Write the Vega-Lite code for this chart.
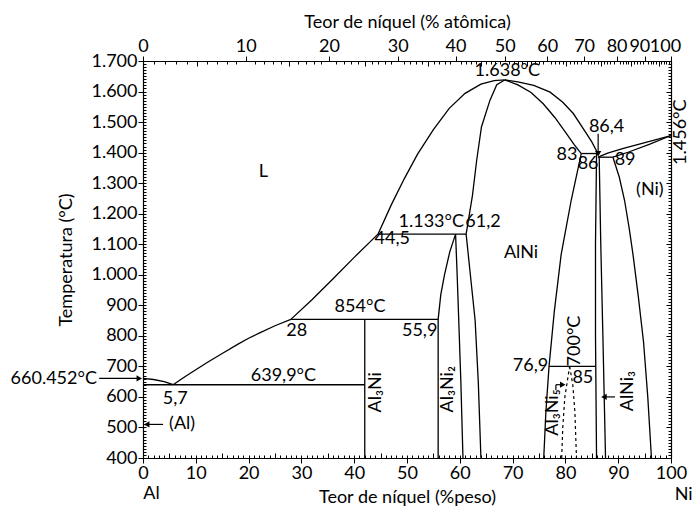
{
  "$schema": "https://vega.github.io/schema/vega-lite/v6.json",
  "autosize": "none",
  "width": 528,
  "height": 397,
  "padding": {"left": 143, "top": 61, "right": 25, "bottom": 50},
  "background": "white",
  "config": {
    "view": {"stroke": null},
    "font": "Lato",
    "axis": {"labelFont": "Lato", "titleFont": "Lato", "labelFontSize": 18, "titleFontSize": 18, "titleFontWeight": "normal", "labelColor": "black", "titleColor": "black", "domainColor": "black", "tickColor": "black", "grid": false, "labelOverlap": false, "labelBound": false, "labelFlush": false, "domainWidth": 1.2, "tickWidth": 1}
  },
  "datasets": {
    "solid": [
      {"c": "c1", "o": 1, "x": 0, "T": 660.5}, {"c": "c1", "o": 2, "x": 2, "T": 657}, {"c": "c1", "o": 3, "x": 4, "T": 650}, {"c": "c1", "o": 4, "x": 5.7, "T": 639.9},
      {"c": "c2", "o": 1, "x": 5.7, "T": 639.9}, {"c": "c2", "o": 2, "x": 8, "T": 667}, {"c": "c2", "o": 3, "x": 10, "T": 689}, {"c": "c2", "o": 4, "x": 12, "T": 711}, {"c": "c2", "o": 5, "x": 15, "T": 742}, {"c": "c2", "o": 6, "x": 18, "T": 773}, {"c": "c2", "o": 7, "x": 20, "T": 792}, {"c": "c2", "o": 8, "x": 22, "T": 809}, {"c": "c2", "o": 9, "x": 25, "T": 833}, {"c": "c2", "o": 10, "x": 28, "T": 854},
      {"c": "c3", "o": 1, "x": 28, "T": 854}, {"c": "c3", "o": 2, "x": 32, "T": 918}, {"c": "c3", "o": 3, "x": 36, "T": 987}, {"c": "c3", "o": 4, "x": 40, "T": 1057}, {"c": "c3", "o": 5, "x": 44.5, "T": 1133},
      {"c": "c4", "o": 1, "x": 44.5, "T": 1133}, {"c": "c4", "o": 2, "x": 47, "T": 1228}, {"c": "c4", "o": 3, "x": 49.5, "T": 1315}, {"c": "c4", "o": 4, "x": 52, "T": 1395}, {"c": "c4", "o": 5, "x": 55, "T": 1475}, {"c": "c4", "o": 6, "x": 58, "T": 1545}, {"c": "c4", "o": 7, "x": 61, "T": 1594}, {"c": "c4", "o": 8, "x": 64, "T": 1624}, {"c": "c4", "o": 9, "x": 66.5, "T": 1636}, {"c": "c4", "o": 10, "x": 68.5, "T": 1638},
      {"c": "c5", "o": 1, "x": 68.5, "T": 1638}, {"c": "c5", "o": 2, "x": 67, "T": 1622}, {"c": "c5", "o": 3, "x": 65.7, "T": 1571}, {"c": "c5", "o": 4, "x": 64.1, "T": 1484}, {"c": "c5", "o": 5, "x": 63.2, "T": 1375}, {"c": "c5", "o": 6, "x": 62.4, "T": 1260}, {"c": "c5", "o": 7, "x": 61.2, "T": 1133},
      {"c": "c6", "o": 1, "x": 68.5, "T": 1638}, {"c": "c6", "o": 2, "x": 71, "T": 1632}, {"c": "c6", "o": 3, "x": 74, "T": 1620}, {"c": "c6", "o": 4, "x": 77.1, "T": 1598}, {"c": "c6", "o": 5, "x": 79.5, "T": 1565}, {"c": "c6", "o": 6, "x": 81.5, "T": 1528}, {"c": "c6", "o": 7, "x": 83.5, "T": 1475}, {"c": "c6", "o": 8, "x": 85, "T": 1435}, {"c": "c6", "o": 9, "x": 86.3, "T": 1392},
      {"c": "c7", "o": 1, "x": 68.5, "T": 1638}, {"c": "c7", "o": 2, "x": 71, "T": 1622}, {"c": "c7", "o": 3, "x": 73.5, "T": 1597}, {"c": "c7", "o": 4, "x": 75.8, "T": 1560}, {"c": "c7", "o": 5, "x": 78, "T": 1515}, {"c": "c7", "o": 6, "x": 80.2, "T": 1462}, {"c": "c7", "o": 7, "x": 81.7, "T": 1425}, {"c": "c7", "o": 8, "x": 83, "T": 1397},
      {"c": "c8", "o": 1, "x": 83, "T": 1397}, {"c": "c8", "o": 2, "x": 86.2, "T": 1397},
      {"c": "c8b", "o": 1, "x": 86.2, "T": 1385}, {"c": "c8b", "o": 2, "x": 89, "T": 1385},
      {"c": "c9", "o": 1, "x": 86.2, "T": 1385}, {"c": "c9", "o": 2, "x": 88, "T": 1398}, {"c": "c9", "o": 3, "x": 91, "T": 1414}, {"c": "c9", "o": 4, "x": 94, "T": 1428}, {"c": "c9", "o": 5, "x": 97, "T": 1442}, {"c": "c9", "o": 6, "x": 100, "T": 1456},
      {"c": "c10", "o": 1, "x": 89, "T": 1385}, {"c": "c10", "o": 2, "x": 92, "T": 1402}, {"c": "c10", "o": 3, "x": 96, "T": 1428}, {"c": "c10", "o": 4, "x": 100, "T": 1456},
      {"c": "c11", "o": 1, "x": 89, "T": 1385}, {"c": "c11", "o": 2, "x": 90.2, "T": 1320}, {"c": "c11", "o": 3, "x": 91.2, "T": 1244}, {"c": "c11", "o": 4, "x": 92.1, "T": 1150}, {"c": "c11", "o": 5, "x": 92.8, "T": 1067}, {"c": "c11", "o": 6, "x": 93.8, "T": 930}, {"c": "c11", "o": 7, "x": 94.8, "T": 780}, {"c": "c11", "o": 8, "x": 95.6, "T": 600}, {"c": "c11", "o": 9, "x": 96.3, "T": 400},
      {"c": "c12", "o": 1, "x": 85.9, "T": 1397}, {"c": "c12", "o": 2, "x": 85.7, "T": 1100}, {"c": "c12", "o": 3, "x": 85.7, "T": 800}, {"c": "c12", "o": 4, "x": 85.9, "T": 400},
      {"c": "c13", "o": 1, "x": 86.4, "T": 1385}, {"c": "c13", "o": 2, "x": 86.7, "T": 1100}, {"c": "c13", "o": 3, "x": 87.1, "T": 800}, {"c": "c13", "o": 4, "x": 87.6, "T": 400},
      {"c": "c14", "o": 1, "x": 83, "T": 1397}, {"c": "c14", "o": 2, "x": 81.1, "T": 1244}, {"c": "c14", "o": 3, "x": 79.2, "T": 1067}, {"c": "c14", "o": 4, "x": 77.9, "T": 880}, {"c": "c14", "o": 5, "x": 76.9, "T": 700}, {"c": "c14", "o": 6, "x": 76.3, "T": 550}, {"c": "c14", "o": 7, "x": 75.9, "T": 400},
      {"c": "c15", "o": 1, "x": 76.9, "T": 700}, {"c": "c15", "o": 2, "x": 85.7, "T": 700},
      {"c": "c16", "o": 1, "x": 0, "T": 639.9}, {"c": "c16", "o": 2, "x": 42, "T": 639.9},
      {"c": "c17", "o": 1, "x": 28, "T": 854}, {"c": "c17", "o": 2, "x": 55.9, "T": 854},
      {"c": "c18", "o": 1, "x": 42, "T": 854}, {"c": "c18", "o": 2, "x": 42, "T": 400},
      {"c": "c19", "o": 1, "x": 55.9, "T": 400}, {"c": "c19", "o": 2, "x": 55.9, "T": 854}, {"c": "c19", "o": 3, "x": 56.4, "T": 935}, {"c": "c19", "o": 4, "x": 57.1, "T": 1000}, {"c": "c19", "o": 5, "x": 58.1, "T": 1075}, {"c": "c19", "o": 6, "x": 59.2, "T": 1133},
      {"c": "c20", "o": 1, "x": 59.2, "T": 1133}, {"c": "c20", "o": 2, "x": 59.5, "T": 1000}, {"c": "c20", "o": 3, "x": 59.8, "T": 851}, {"c": "c20", "o": 4, "x": 60.2, "T": 650}, {"c": "c20", "o": 5, "x": 60.6, "T": 400},
      {"c": "c21", "o": 1, "x": 44.5, "T": 1133}, {"c": "c21", "o": 2, "x": 61.2, "T": 1133},
      {"c": "c22", "o": 1, "x": 61.2, "T": 1133}, {"c": "c22", "o": 2, "x": 62, "T": 1000}, {"c": "c22", "o": 3, "x": 62.9, "T": 851}, {"c": "c22", "o": 4, "x": 63.5, "T": 650}, {"c": "c22", "o": 5, "x": 64, "T": 400}
    ],
    "dashed": [
      {"c": "d1", "o": 1, "x": 79.3, "T": 400}, {"c": "d1", "o": 2, "x": 79.5, "T": 500}, {"c": "d1", "o": 3, "x": 79.9, "T": 600}, {"c": "d1", "o": 4, "x": 80.8, "T": 700},
      {"c": "d2", "o": 1, "x": 80.8, "T": 700}, {"c": "d2", "o": 2, "x": 81.4, "T": 640}, {"c": "d2", "o": 3, "x": 81.8, "T": 550}, {"c": "d2", "o": 4, "x": 82.1, "T": 400}
    ],
    "arrows": [
      {"x": -8.3, "T": 660.5, "x2": -1.0, "T2": 660.5},
      {"x": 3.8, "T": 510, "x2": 1.0, "T2": 510},
      {"x": 86.2, "T": 1462, "x2": 86.2, "T2": 1400},
      {"x": 89.4, "T": 600, "x2": 87.5, "T2": 600},
      {"x": 78.2, "T": 640, "x2": 79.2, "T2": 640},
      {"x": 78.2, "T": 622, "x2": 78.2, "T2": 640}
    ],
    "heads": [
      {"x": -0.7, "T": 660.5, "s": "triangle-right"},
      {"x": 0.7, "T": 510, "s": "triangle-left"},
      {"x": 86.2, "T": 1396, "s": "triangle-down"},
      {"x": 87.3, "T": 600, "s": "triangle-left"},
      {"x": 79.5, "T": 640, "s": "triangle-right"}
    ],
    "labels": [
      {"t": "L", "x": 22.8, "T": 1337},
      {"t": "1.638°C", "x": 69, "T": 1666},
      {"t": "86,4", "x": 87.8, "T": 1484},
      {"t": "83", "x": 80.3, "T": 1391},
      {"t": "86", "x": 84.3, "T": 1364},
      {"t": "89", "x": 91.3, "T": 1375},
      {"t": "(Ni)", "x": 96, "T": 1277},
      {"t": "1.133°C", "x": 54.6, "T": 1173},
      {"t": "61,2", "x": 64.4, "T": 1173},
      {"t": "44,5", "x": 47.2, "T": 1118},
      {"t": "AlNi", "x": 71.6, "T": 1070},
      {"t": "854°C", "x": 41.1, "T": 893},
      {"t": "28", "x": 29.1, "T": 816},
      {"t": "55,9", "x": 52.4, "T": 816},
      {"t": "639,9°C", "x": 26.6, "T": 669},
      {"t": "5,7", "x": 6.1, "T": 592},
      {"t": "660.452°C", "x": -16.9, "T": 658},
      {"t": "(Al)", "x": 7.4, "T": 510},
      {"t": "76,9", "x": 73.4, "T": 701},
      {"t": "85", "x": 83.3, "T": 663},
      {"t": "Al", "x": 1.6, "T": 282},
      {"t": "Ni", "x": 102.4, "T": 280}
    ],
    "vlabels": [
      {"t": "1.456°C", "x": 101.9, "T": 1467},
      {"t": "Al₃Ni", "x": 44.2, "T": 615},
      {"t": "Al₃Ni₂", "x": 57.8, "T": 625},
      {"t": "700°C", "x": 81.8, "T": 783},
      {"t": "Al₃Ni₅", "x": 77.7, "T": 549},
      {"t": "AlNi₃", "x": 91.9, "T": 619}
    ]
  },
  "resolve": {"axis": {"x": "independent", "y": "independent"}},
  "layer": [
    {
      "data": {"name": "solid"},
      "mark": {"type": "line", "color": "black", "strokeWidth": 1.3, "clip": false},
      "encoding": {
        "x": {"field": "x", "type": "quantitative", "scale": {"domain": [0, 100], "nice": false, "zero": false},
              "axis": {"orient": "bottom", "values": [0,10,20,30,40,50,60,70,80,90,100], "tickSize": 5, "labelPadding": 1, "title": "Teor de níquel (%peso)", "titlePadding": 6}},
        "y": {"field": "T", "type": "quantitative", "scale": {"domain": [400, 1700], "nice": false, "zero": false},
              "axis": {"orient": "left", "values": [400,500,600,700,800,900,1000,1100,1200,1300,1400,1500,1600,1700], "tickSize": 5, "labelPadding": 1, "labelExpr": "replace(format(datum.value, ','), ',', '.')", "title": "Temperatura (°C)", "titlePadding": 15}},
        "detail": {"field": "c"},
        "order": {"field": "o", "type": "quantitative"}
      }
    },
    {
      "data": {"name": "dashed"},
      "mark": {"type": "line", "color": "black", "strokeWidth": 1.2, "strokeDash": [3, 3]},
      "encoding": {
        "x": {"field": "x", "type": "quantitative", "axis": {"orient": "bottom", "tickCount": 100, "tickSize": -3, "labels": false, "domain": false, "title": null}},
        "y": {"field": "T", "type": "quantitative", "axis": {"orient": "left", "tickCount": 130, "tickSize": -3, "labels": false, "domain": false, "title": null}},
        "detail": {"field": "c"},
        "order": {"field": "o", "type": "quantitative"}
      }
    },
    {
      "data": {"name": "arrows"},
      "mark": {"type": "rule", "color": "black", "strokeWidth": 1.2},
      "encoding": {
        "x": {"field": "x", "type": "quantitative", "axis": {"orient": "bottom", "values": [5,15,25,35,45,55,65,75,85,95], "tickSize": -5, "labels": false, "domain": false, "title": null}},
        "x2": {"field": "x2"},
        "y": {"field": "T", "type": "quantitative", "axis": {"orient": "right", "values": [400,500,600,700,800,900,1000,1100,1200,1300,1400,1500,1600,1700], "tickSize": -5, "labels": false, "domain": true, "title": null}},
        "y2": {"field": "T2"}
      }
    },
    {
      "data": {"name": "heads"},
      "mark": {"type": "point", "filled": true, "color": "black", "size": 40, "opacity": 1},
      "encoding": {
        "x": {"field": "x", "type": "quantitative", "axis": {"orient": "top", "values": [0,19.465,35.226,48.248,59.187,68.508,76.542,83.541,89.692,95.140,100], "tickSize": 5, "labelPadding": 1, "labelOffset": {"condition": {"test": "datum.value > 94", "value": -6}, "value": 0}, "labelExpr": "format(round(100*(datum.value/58.69)/(datum.value/58.69+(100-datum.value)/26.98)),'d')", "title": "Teor de níquel (% atômica)", "titlePadding": 6, "domain": true}},
        "y": {"field": "T", "type": "quantitative", "axis": {"orient": "right", "tickCount": 130, "tickSize": -3, "labels": false, "domain": false, "title": null}},
        "shape": {"field": "s", "type": "nominal", "scale": {"domain": ["triangle-right", "triangle-left", "triangle-down"], "range": ["triangle-right", "triangle-left", "triangle-down"]}, "legend": null}
      }
    },
    {
      "data": {"name": "labels"},
      "mark": {"type": "text", "font": "Lato", "fontSize": 18, "color": "black", "align": "center", "baseline": "middle"},
      "encoding": {
        "x": {"field": "x", "type": "quantitative", "axis": {"orient": "top", "values": [2.150,4.251,6.304,8.311,12.192,14.070,15.907,17.705,21.189,22.877,24.531,26.151,29.296,30.822,32.318,33.786,36.639,38.025,39.385,40.721,43.320,44.585,45.827,47.048,49.426,50.585,51.724,52.844,55.028,56.093,57.141,58.172,60.185,61.168,62.136,63.088,64.950,65.859,66.755,67.638,69.364,70.208,71.040,71.860,73.465,74.250,75.025,75.789,77.285,78.018,78.741,79.454,80.853,81.538,82.215,82.882,84.191,84.834,85.468,86.094,87.323,87.926,88.522,89.111,90.266,90.834,91.394,91.948,93.038,93.573,94.101,94.624,95.651,96.156,96.656,97.149,98.120,98.597,99.070,99.537], "tickSize": -3, "labels": false, "domain": false, "title": null}},
        "y": {"field": "T", "type": "quantitative", "axis": null},
        "text": {"field": "t"}
      }
    },
    {
      "data": {"name": "vlabels"},
      "mark": {"type": "text", "font": "Lato", "fontSize": 18, "color": "black", "align": "center", "baseline": "middle", "angle": 270},
      "encoding": {
        "x": {"field": "x", "type": "quantitative", "axis": {"orient": "top", "values": [10.273,27.739,42.032,53.945,64.026,72.668,80.158,86.712,92.496,97.638], "tickSize": -5, "labels": false, "domain": false, "title": null}},
        "y": {"field": "T", "type": "quantitative", "axis": null},
        "text": {"field": "t"}
      }
    }
  ]
}
